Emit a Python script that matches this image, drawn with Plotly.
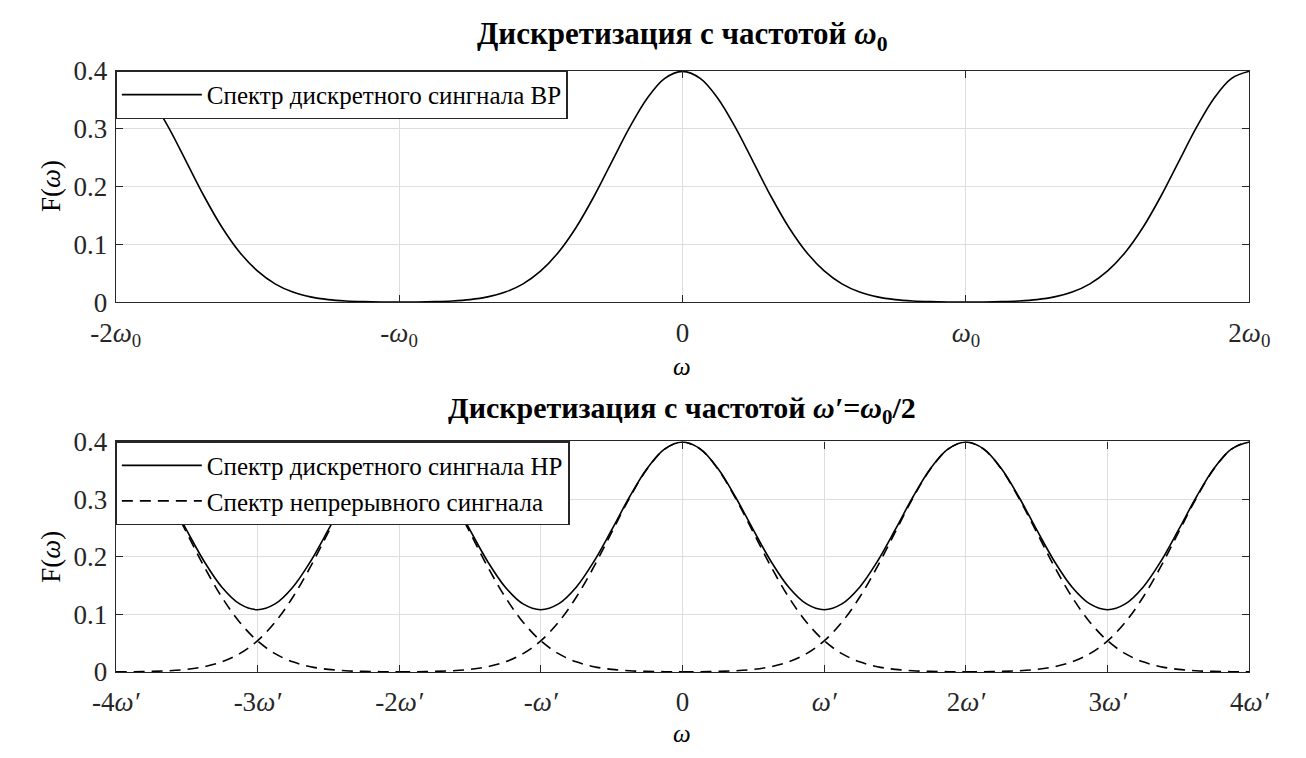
import plotly.graph_objects as go

# ---------------- data ----------------
x_vals = [-8 + 0.25 * i for i in range(65)]

# top: spectrum of the discrete signal, sampling at w0 (w0 = 4 units)
top_y = [0.3989, 0.3867, 0.3521, 0.3011, 0.2420, 0.1826, 0.1295, 0.0863, 0.0540,
         0.0317, 0.0175, 0.0091, 0.0044, 0.0020, 0.0009, 0.0004, 0.0003,
         0.0004, 0.0009, 0.0020, 0.0044, 0.0091, 0.0175, 0.0317, 0.0540,
         0.0863, 0.1295, 0.1826, 0.2420, 0.3011, 0.3521, 0.3867, 0.3989,
         0.3867, 0.3521, 0.3011, 0.2420, 0.1826, 0.1295, 0.0863, 0.0540,
         0.0317, 0.0175, 0.0091, 0.0044, 0.0020, 0.0009, 0.0004, 0.0003,
         0.0004, 0.0009, 0.0020, 0.0044, 0.0091, 0.0175, 0.0317, 0.0540,
         0.0863, 0.1295, 0.1826, 0.2420, 0.3011, 0.3521, 0.3867, 0.3989]

# bottom: spectrum of the discrete signal, sampling at w' = w0/2 (aliased)
bottom_y = [0.3991, 0.3871, 0.3530, 0.3031, 0.2464, 0.1917, 0.1470, 0.1180, 0.1080,
            0.1180, 0.1470, 0.1917, 0.2464, 0.3031, 0.3530, 0.3871, 0.3991,
            0.3871, 0.3530, 0.3031, 0.2464, 0.1917, 0.1470, 0.1180, 0.1080,
            0.1180, 0.1470, 0.1917, 0.2464, 0.3031, 0.3530, 0.3871, 0.3991,
            0.3871, 0.3530, 0.3031, 0.2464, 0.1917, 0.1470, 0.1180, 0.1080,
            0.1180, 0.1470, 0.1917, 0.2464, 0.3031, 0.3530, 0.3871, 0.3991,
            0.3871, 0.3530, 0.3031, 0.2464, 0.1917, 0.1470, 0.1180, 0.1080,
            0.1180, 0.1470, 0.1917, 0.2464, 0.3031, 0.3530, 0.3871, 0.3991]

# continuous-signal spectrum copies (dashed), one profile around each centre
cont_offsets = [-4 + 0.25 * i for i in range(33)]
cont_profile = [0.0001, 0.0004, 0.0009, 0.0020, 0.0044, 0.0091, 0.0175, 0.0317, 0.0540,
                0.0863, 0.1295, 0.1826, 0.2420, 0.3011, 0.3521, 0.3867, 0.3989,
                0.3867, 0.3521, 0.3011, 0.2420, 0.1826, 0.1295, 0.0863, 0.0540,
                0.0317, 0.0175, 0.0091, 0.0044, 0.0020, 0.0009, 0.0004, 0.0001]
cont_centers = [-8, -4, 0, 4, 8]

top_ticks = [-8, -4, 0, 4, 8]
top_ticklabels = ["-2<i>ω</i><sub>0</sub>", "-<i>ω</i><sub>0</sub>", "0",
                  "<i>ω</i><sub>0</sub>", "2<i>ω</i><sub>0</sub>"]
bottom_ticks = [-8, -6, -4, -2, 0, 2, 4, 6, 8]
bottom_ticklabels = ["-4<i>ω′</i>", "-3<i>ω′</i>", "-2<i>ω′</i>", "-<i>ω′</i>", "0",
                     "<i>ω′</i>", "2<i>ω′</i>", "3<i>ω′</i>", "4<i>ω′</i>"]
y_ticks = [0, 0.1, 0.2, 0.3, 0.4]
y_ticklabels = ["0", "0.1", "0.2", "0.3", "0.4"]

legend_top = "Спектр дискретного сингнала ВР"
legend_bottom_solid = "Спектр дискретного сингнала НР"
legend_bottom_dash = "Спектр непрерывного сингнала"
title_top = "Дискретизация с частотой <i>ω</i><sub>0</sub>"
title_bottom = "Дискретизация с частотой <i>ω′</i>=<i>ω</i><sub>0</sub>/2"

# ---------------- figure ----------------
W, H = 1306, 758
FONT = "'Liberation Serif', 'Times New Roman', Times, 'DejaVu Serif', serif"

def px_x(p):
    return p / W

def px_y(p):
    return 1 - p / H

fig = go.Figure()

fig.add_trace(go.Scatter(x=x_vals, y=top_y, mode="lines", name=legend_top,
                         line=dict(color="black", width=1.6, shape="spline"),
                         xaxis="x", yaxis="y", legend="legend"))

fig.add_trace(go.Scatter(x=x_vals, y=bottom_y, mode="lines", name=legend_bottom_solid,
                         line=dict(color="black", width=1.6, shape="spline"),
                         xaxis="x2", yaxis="y2", legend="legend2"))

dx, dy = [], []
for c in cont_centers:
    dx += [c + o for o in cont_offsets] + [None]
    dy += cont_profile + [None]
fig.add_trace(go.Scatter(x=dx, y=dy, mode="lines", name=legend_bottom_dash,
                         line=dict(color="black", width=1.6, dash="11px,7px", shape="spline"),
                         connectgaps=False, xaxis="x2", yaxis="y2", legend="legend2"))

axis_common = dict(showline=True, linecolor="#262626", linewidth=1.2, mirror="allticks",
                   ticks="inside", ticklen=7, tickwidth=1.2, tickcolor="#262626",
                   showgrid=True, gridcolor="#dedede", gridwidth=1, zeroline=False,
                   tickfont=dict(family=FONT, size=27, color="#262626"))

PL, PR = 93, 1269
fig.update_layout(
    width=W, height=H, margin=dict(l=0, r=0, t=0, b=0),
    paper_bgcolor="white", plot_bgcolor="white",
    font=dict(family=FONT, color="#262626", size=25),
    xaxis=dict(domain=[px_x(PL), px_x(PR)], range=[-8, 8], anchor="y",
               tickmode="array", tickvals=top_ticks, ticktext=top_ticklabels,
               ticklabelstandoff=6, **axis_common),
    yaxis=dict(domain=[px_y(299), px_y(58)], range=[0, 0.4], anchor="x",
               tickmode="array", tickvals=y_ticks, ticktext=y_ticklabels,
               ticklabelstandoff=2, **axis_common),
    xaxis2=dict(domain=[px_x(PL), px_x(PR)], range=[-8, 8], anchor="y2",
                tickmode="array", tickvals=bottom_ticks, ticktext=bottom_ticklabels,
                ticklabelstandoff=6, **axis_common),
    yaxis2=dict(domain=[px_y(684), px_y(444)], range=[0, 0.4], anchor="x2",
                tickmode="array", tickvals=y_ticks, ticktext=y_ticklabels,
                ticklabelstandoff=2, **axis_common),
    legend=dict(x=px_x(PL), y=px_y(58), xanchor="left", yanchor="top",
                bgcolor="white", bordercolor="#262626", borderwidth=1.2,
                font=dict(family=FONT, size=25, color="black"),
                itemwidth=80, tracegroupgap=0),
    legend2=dict(x=px_x(PL), y=px_y(444), xanchor="left", yanchor="top",
                 bgcolor="white", bordercolor="#262626", borderwidth=1.2,
                 font=dict(family=FONT, size=25, color="black"),
                 itemwidth=80, tracegroupgap=0),
    showlegend=True,
)

annos = [
    dict(text="<b>" + title_top + "</b>", x=px_x(681), y=px_y(22), size=31),
    dict(text="<b>" + title_bottom + "</b>", x=px_x(681), y=px_y(411), size=30),
    dict(text="<i>ω</i>", x=px_x(681), y=px_y(366), size=25),
    dict(text="<i>ω</i>", x=px_x(681), y=px_y(748), size=25),
    dict(text="F(<i>ω</i>)", x=px_x(26), y=px_y(178), size=27, textangle=-90),
    dict(text="F(<i>ω</i>)", x=px_x(26), y=px_y(564), size=27, textangle=-90),
]
for a in annos:
    fig.add_annotation(xref="paper", yref="paper", xanchor="center", yanchor="middle",
                       showarrow=False, text=a["text"], x=a["x"], y=a["y"],
                       textangle=a.get("textangle", 0), borderpad=0,
                       font=dict(family=FONT, color="black", size=a["size"]))

fig.write_html("out.html")
